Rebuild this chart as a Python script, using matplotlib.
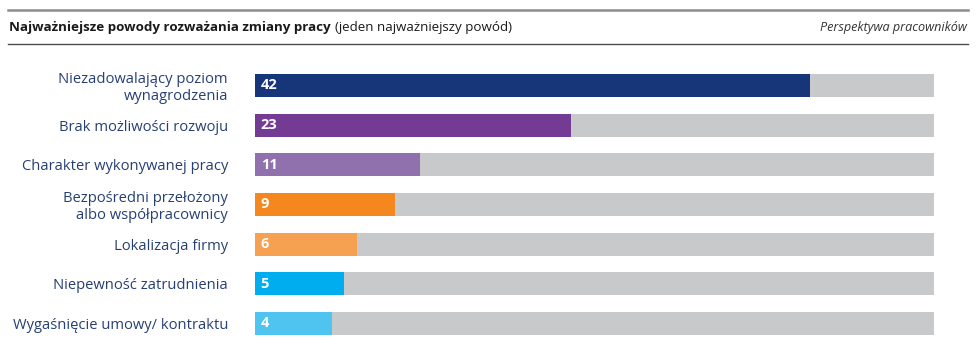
import matplotlib
matplotlib.use("Agg")
import matplotlib.pyplot as plt
from matplotlib.lines import Line2D

plt.rcParams['font.family'] = ['Open Sans', 'DejaVu Sans']

# dane
labels = ["Niezadowalający poziom\nwynagrodzenia",
          "Brak możliwości rozwoju",
          "Charakter wykonywanej pracy",
          "Bezpośredni przełożony\nalbo współpracownicy",
          "Lokalizacja firmy",
          "Niepewność zatrudnienia",
          "Wygaśnięcie umowy/ kontraktu"]
values = [42, 23, 11, 9, 6, 5, 4]
colors = ["#17367a", "#733b93", "#9170ae", "#f5871f", "#f6a052", "#00aeef", "#4fc4f1"]

base = -2.1      # pasek zaczyna się trochę przed zerem
xmax = 51.9

fig = plt.figure(figsize=(9.8, 3.47), dpi=100)
ax = fig.add_axes([255/980, 1 - 343.3/347, 679/980, 277.7/347])

ys = list(range(len(values)))
ax.barh(ys, [xmax - base]*len(ys), left=base, height=0.58, color="#c8c9cb")
ax.barh(ys, [v - base for v in values], left=base, height=0.58, color=colors)
for y, v in zip(ys, values):
    ax.text(base + 0.45, y, str(v), color="white", fontweight="bold",
            fontsize=10.5, va="center", ha="left")

ax.set_xlim(base, xmax)
ax.set_ylim(len(ys) - 0.5, -0.5)
ax.set_yticks(ys)
ax.set_yticklabels(labels, fontsize=10.6, color="#263f73", linespacing=1.1)
ax.tick_params(axis="y", length=0, pad=19.5)
ax.set_xticks([])
for s in ax.spines.values():
    s.set_visible(False)

# naglowek
fig.add_artist(Line2D([8/980, 968/980], [1 - 10/347]*2, color="#8c8c8c", lw=1.8))
fig.add_artist(Line2D([8/980, 968/980], [1 - 44/347]*2, color="#4d4d4d", lw=1.0))
t = fig.text(9/980, 1 - 27/347, "Najważniejsze powody rozważania zmiany pracy",
             fontsize=9.6, fontweight="bold", color="#1a1a1a", va="center")
fig.canvas.draw()
bb = t.get_window_extent()
fig.text(bb.x1/980 + 4/980, 1 - 27/347, "(jeden najważniejszy powód)",
         fontsize=9.6, color="#1a1a1a", va="center")
fig.text(967/980, 1 - 27/347, "Perspektywa pracowników", fontsize=9.1,
         style="italic", color="#333333", va="center", ha="right")

fig.savefig("out.png", dpi=100)
